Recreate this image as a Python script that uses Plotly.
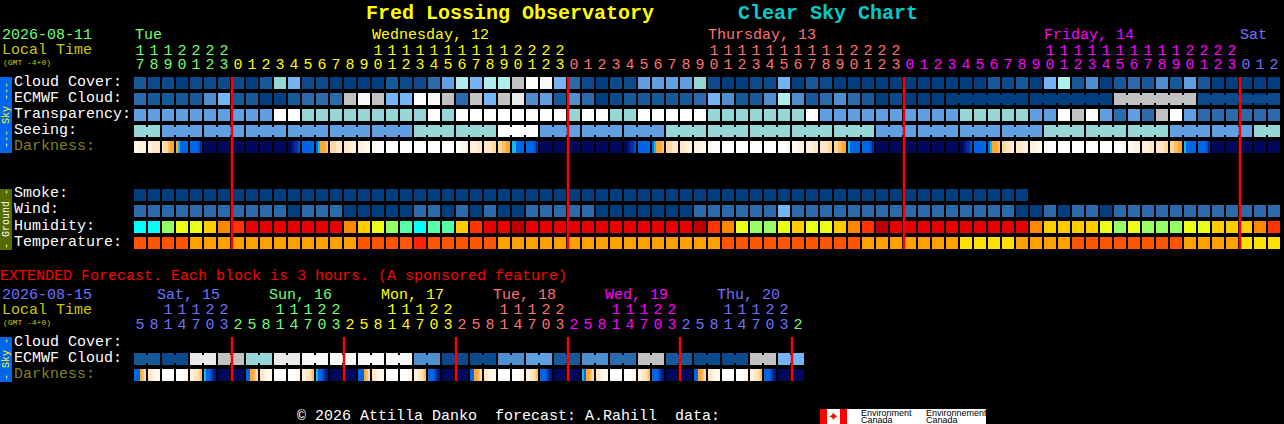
import plotly.graph_objects as go

W = 1284
H = 424
FONT = "Liberation Mono"

# colours per level
cloud_colors = ["#003E7E", "#0D4A8C", "#175A9A", "#2B6BAB", "#4F8FD0", "#5F9FE2", "#75B5F5",
                "#96D6D6", "#AEEEEE", "#C2C2C2", "#EAEAEA", "#F8F8F8", "#FFFFFF"]
humidity_colors = ["#00FFFF", "#55FFAA", "#99FF66", "#EAFF15", "#FFCC00", "#FF8800", "#FF3300", "#E60000", "#BB0000"]
temp_colors = ["#FFE000", "#FFA000", "#FF5500", "#FF2200"]
dark_levels = "abcdefghijklm"
dark_colors = ["#FFFFFF", "#FFF8EE", "#FFF0DC", "#FFE6C4", "#FFD8A0", "#FFC060", "#FFA830", "#10B8F0",
               "#0066E6", "#0050CC", "#0030A0", "#001880", "#00085C"]

# hourly rows, level per hour
cloud_cover = [2, 1, 1, 0, 1, 1, 1, 1, 0, 2, 7, 6, 1, 1, 0, 0, 0, 0, 2, 1, 1,
               3, 5, 8, 6, 8, 8, 9, 12, 11, 6, 3, 1, 0, 1, 1, 5, 5, 5, 5, 7,
               1, 0, 0, 1, 1, 6, 0, 2, 1, 0, 0, 0, 0, 0, 0, 0, 0, 0, 0, 0,
               2, 1, 2, 0, 6, 8, 2, 4, 0, 2, 3, 2, 4, 2, 5, 2, 0, 0, 0, 0, 0]
ecmwf_cloud = [3, 2, 2, 2, 2, 4, 6, 2, 2, 0, 0, 2, 3, 3, 3, 9, 11, 9, 6, 6, 12,
               11, 9, 3, 9, 6, 9, 10, 4, 5, 2, 4, 3, 0, 1, 2, 2, 2, 2, 2, 3,
               6, 4, 2, 2, 4, 8, 4, 2, 3, 4, 3, 2, 0, 1, 0, 0, 0, 0, 0, 0,
               0, 0, 0, 0, 0, 0, 0, 0, 0, 9, 9, 9, 9, 9, 9, 1, 1, 1, 0, 0, 1]
ecmwf_joined = [(58, 63), (64, 69), (70, 75), (76, 81)]
transparency = [5, 5, 5, 5, 5, 5, 5, 5, 5, 5, 12, 12, 7, 7, 7, 7, 7, 7, 7, 7, 7,
                12, 7, 12, 12, 12, 12, 12, 12, 12, 12, 7, 12, 12, 7, 7, 12, 12, 12, 12, 12,
                7, 7, 7, 7, 7, 7, 7, 12, 5, 5, 5, 5, 5, 5, 5, 5, 5, 5, 7, 7, 7, 7,
                7, 5, 5, 12, 9, 12, 5, 3, 5, 3, 9, 12, 5, 3, 3, 3, 3, 3, 3]
seeing_levels = [7, 5, 5, 5, 5, 5, 5, 7, 7, 12, 5, 5, 5, 7, 7, 7, 7, 7, 5, 5, 5, 5, 7, 7, 7, 5, 5, 7]
seeing_hours = [2, 3, 3, 3, 3, 3, 3, 3, 3, 3, 3, 3, 3, 3, 3, 3, 3, 3, 3, 3, 3, 3, 3, 3, 3, 3, 3, 2]
darkness = ["bbcccc", "ccdddd", "deefgg", "ghiiii", "iiiijk", "mmmmmm", "mmmmmm", "mmmmmm", "mmmmmm", "mmmmmm",
            "mmmmmm", "mmlkkj", "iiiiii", "ihgggf", "eeeddd", "dddccc", "cccbbb", "bbaaaa", "aaaaaa", "aaaaaa",
            "aaaaaa", "aaaaaa", "aaaaaa", "aabbbc", "ccccdd", "ddddee", "eeffgg", "hhiiii", "iiiijk", "mmmmmm",
            "mmmmmm", "mmmmmm", "mmmmmm", "mmmmmm", "mmmmmm", "mmlkkj", "iiiiii", "ihgggf", "eeeddd", "dddccc",
            "cccbbb", "bbaaaa", "aaaaaa", "aaaaaa", "aaaaaa", "aaaaaa", "aaaabb", "bbbccc", "ccccdd", "ddddee",
            "eeffgg", "hiiiii", "iiiijk", "mmmmmm", "mmmmmm", "mmmmmm", "mmmmmm", "mmmmmm", "mmmmmm", "mmlkkj",
            "iiiiii", "ihgggf", "eedddc", "dddccc", "cccbbb", "bbaaaa", "aaaaaa", "aaaaaa", "aaaaaa", "aaaaaa",
            "aaaabb", "bbbccc", "ccccdd", "ddddee", "eeffgg", "hiiiii", "iiiijk", "mmmmmm", "mmmmmm", "mmmmmm",
            "mmmmmm", "mmmmmm"]
smoke = [0] * 64
wind = [3, 3, 3, 3, 3, 3, 3, 3, 3, 3, 3, 0, 3, 3, 3, 0, 0, 0, 0, 0, 3,
        3, 0, 3, 0, 3, 0, 0, 3, 3, 3, 3, 3, 0, 0, 0, 0, 0, 0, 0, 3,
        3, 3, 3, 3, 3, 6, 3, 3, 3, 3, 3, 3, 3, 3, 3, 3, 3, 3, 3, 3,
        3, 3, 0, 0, 3, 0, 3, 3, 0, 3, 3, 3, 3, 3, 3, 3, 3, 3, 3, 3, 3]
humidity = [0, 0, 2, 3, 3, 4, 5, 6, 7, 7, 7, 7, 7, 7, 7, 5, 4, 3, 2, 1, 0,
            1, 1, 4, 6, 7, 7, 8, 7, 7, 7, 7, 7, 7, 7, 7, 7, 7, 7, 7, 8,
            6, 5, 3, 2, 2, 3, 4, 3, 3, 4, 5, 6, 8, 7, 7, 7, 7, 7, 7, 7,
            7, 7, 7, 5, 4, 4, 4, 4, 3, 2, 3, 2, 2, 2, 3, 3, 4, 4, 4, 5, 6]
temperature = [2, 2, 2, 2, 1, 1, 1, 1, 1, 1, 1, 1, 1, 1, 1, 1, 2, 2, 2, 2, 3,
               2, 2, 2, 2, 2, 1, 1, 1, 1, 1, 1, 1, 1, 1, 1, 1, 1, 1, 1, 1,
               1, 2, 2, 2, 2, 2, 2, 2, 2, 2, 2, 1, 1, 1, 1, 1, 1, 1, 0, 0,
               0, 0, 1, 1, 1, 1, 2, 2, 2, 2, 2, 2, 2, 2, 1, 1, 1, 1, 0, 0, 0]

# extended rows, one value per 3 hour block (two cells each)
ext_ecmwf = [2, 1, 10, 9, 7, 10, 11, 11, 11, 11, 4, 1, 1, 4, 5, 2, 4, 3, 9, 2, 1, 1, 9, 6]
ext_darkness = ["iiigfe", "ddcbbb", "aaaaaa", "aaaabb", "ccddef", "hiijkl", "mmmmmm", "mmmmmm",
                "iiggfe", "ddcbbb", "aaaaaa", "aaaabb", "ccddef", "hiijkl", "mmmmmm", "mmmmmm",
                "iiigfe", "ddcbbb", "aaaaaa", "aaaabb", "ccddef", "iiijkl", "mmmmmm", "mmmmmm",
                "iiggfe", "ddcbbb", "aaaaaa", "aaaabb", "ccddef", "iiijkl", "mmmmmm", "mmmmmm",
                "higgfe", "ddcbbb", "aaaaaa", "aaaabb", "ccddef", "iiijkl", "mmmmmm", "mmmmmm",
                "iiggfe", "ddcbbb", "aaaaaa", "aaaabb", "ccddef", "iiijkl", "mmmmmm", "mmmmmm"]

# header labels
tens = ["1", "1", "1", "2", "2", "2", "2", "", "", "", "", "", "", "", "", "", "",
        "1", "1", "1", "1", "1", "1", "1", "1", "1", "1", "2", "2", "2", "2", "", "", "", "", "", "", "", "", "", "",
        "1", "1", "1", "1", "1", "1", "1", "1", "1", "1", "2", "2", "2", "2", "", "", "", "", "", "", "", "", "", "",
        "1", "1", "1", "1", "1", "1", "1", "1", "1", "1", "2", "2", "2", "2", "", "", ""]
units = [7, 8, 9, 0, 1, 2, 3, 0, 1, 2, 3, 4, 5, 6, 7, 8, 9,
         0, 1, 2, 3, 4, 5, 6, 7, 8, 9, 0, 1, 2, 3, 0, 1, 2, 3, 4, 5, 6, 7, 8, 9,
         0, 1, 2, 3, 4, 5, 6, 7, 8, 9, 0, 1, 2, 3, 0, 1, 2, 3, 4, 5, 6, 7, 8, 9,
         0, 1, 2, 3, 4, 5, 6, 7, 8, 9, 0, 1, 2, 3, 0, 1, 2]
hour_days = [0] * 7 + [1] * 24 + [2] * 24 + [3] * 24 + [4] * 3
ext_tens = ["", "", "1", "1", "1", "2", "2", "", "", "", "1", "1", "1", "2", "2", "",
            "", "", "1", "1", "1", "2", "2", "", "", "", "1", "1", "1", "2", "2", "",
            "", "", "1", "1", "1", "2", "2", "", "", "", "1", "1", "1", "2", "2", ""]
ext_units = [5, 8, 1, 4, 7, 0, 3, 2, 5, 8, 1, 4, 7, 0, 3, 2, 5, 8, 1, 4, 7, 0, 3, 2,
             5, 8, 1, 4, 7, 0, 3, 2, 5, 8, 1, 4, 7, 0, 3, 2, 5, 8, 1, 4, 7, 0, 3, 2]
ext_days = [0] * 7 + [1] * 8 + [2] * 8 + [3] * 8 + [4] * 8 + [0] * 8 + [1]
day_colors = ["#70FF70", "#FFFF00", "#FF7070", "#FF00FF", "#7070FF"]
ext_day_colors = ["#7070FF", "#70FF70", "#FFFF00", "#FF7070", "#FF00FF"]

hour_midnights = [7, 31, 55, 79]
ext_midnights = [7, 15, 23, 31, 39, 47]


def stepped(colors):
    n = len(colors)
    scale = []
    for k, c in enumerate(colors):
        scale += [[k / n, c], [(k + 1) / n, c]]
    return scale


def add_row(fig, values, colors, row):
    fig.add_trace(go.Heatmap(z=[values], x0=0, dx=1, y0=row, dy=1, xgap=2, ygap=4,
                             zmin=-0.5, zmax=len(colors) - 0.5, colorscale=stepped(colors),
                             showscale=False, hoverinfo="skip"))


def add_dark_row(fig, cells, row):
    # six 2px steps per block and an empty step for the gap
    z = []
    for cell in cells:
        z += [dark_levels.index(c) for c in cell] + [None]
    fig.add_trace(go.Heatmap(z=[z], x0=-5 / 14, dx=1 / 7, y0=row, dy=1, ygap=4,
                             zmin=-0.5, zmax=len(dark_colors) - 0.5, colorscale=stepped(dark_colors),
                             showscale=False, hoverinfo="skip"))


def add_joint(fig, start, end, row, color):
    fig.add_trace(go.Scatter(x=[start, end], y=[row, row], mode="lines",
                             line=dict(color=color, width=8), hoverinfo="skip"))


def add_midnights(fig, cells, top, bottom):
    for m in cells:
        fig.add_trace(go.Scatter(x=[m - 6 / 14, m - 6 / 14], y=[top, bottom], mode="lines",
                                 line=dict(color="#FF0000", width=2.5), hoverinfo="skip"))


def add_digits(fig, labels, days, colors, row):
    fig.add_trace(go.Scatter(x=list(range(len(labels))), y=[row] * len(labels), mode="text",
                             text=[str(v) for v in labels],
                             textfont=dict(family=FONT, size=15, color=[colors[d] for d in days]),
                             textposition="middle center", hoverinfo="skip"))


fig = go.Figure()

# sky block
add_row(fig, cloud_cover, cloud_colors, 0)
add_row(fig, ecmwf_cloud, cloud_colors, 1)
add_row(fig, transparency, cloud_colors, 2)
seeing = []
pos = 0
for level, n in zip(seeing_levels, seeing_hours):
    seeing += [level] * n
    add_joint(fig, pos, pos + n - 1, 3, cloud_colors[level])
    pos += n
add_row(fig, seeing, cloud_colors, 3)
add_dark_row(fig, darkness, 4)
for a, b in ecmwf_joined:
    add_joint(fig, a, b, 1, cloud_colors[ecmwf_cloud[a]])

# ground block
add_row(fig, smoke, cloud_colors, 7)
add_row(fig, wind, cloud_colors, 8)
add_row(fig, humidity, humidity_colors, 9)
add_row(fig, temperature, temp_colors, 10)
add_midnights(fig, hour_midnights, -0.375, 10.375)

# extended block, rows sit 16.25 rows below the top of the chart
ext_cells = []
for k, level in enumerate(ext_ecmwf):
    ext_cells += [level, level]
    add_joint(fig, 2 * k, 2 * k + 1, 17.25, cloud_colors[level])
add_row(fig, ext_cells, cloud_colors, 17.25)
add_dark_row(fig, ext_darkness, 18.25)
add_midnights(fig, ext_midnights, 15.875, 18.625)

# hour digits
add_digits(fig, tens, hour_days, day_colors, -2)
add_digits(fig, units, hour_days, day_colors, -1.125)
add_digits(fig, ext_tens, ext_days, ext_day_colors, 14.1875)
add_digits(fig, ext_units, ext_days, ext_day_colors, 15.125)

fig.update_layout(
    width=W, height=H, margin=dict(l=0, r=0, t=0, b=0),
    paper_bgcolor="#000000", plot_bgcolor="#000000", showlegend=False,
    xaxis=dict(range=[-10, (W - 140) / 14], visible=False, fixedrange=True),
    yaxis=dict(range=[(H - 83) / 16, -83 / 16], visible=False, fixedrange=True),
)
fig.update_traces(selector=dict(type="scatter"), cliponaxis=False)


def put(px, py, text, color, size=15, anchor="left", angle=0, family=FONT):
    fig.add_annotation(xref="paper", yref="paper", x=px / W, y=1 - py / H, text=text, showarrow=False,
                       xanchor=anchor, yanchor="middle", textangle=angle, borderpad=0, borderwidth=0,
                       font=dict(family=family, size=size, color=color))


def box(x0, y0, x1, y1, color):
    fig.add_shape(type="rect", xref="paper", yref="paper", x0=x0 / W, x1=x1 / W,
                  y0=1 - y0 / H, y1=1 - y1 / H, fillcolor=color, line_width=0, layer="below")


put(366, 13, "<b>Fred Lossing Observatory</b>", "#FFFF00", 20)
put(738, 13, "<b>Clear Sky Chart</b>", "#00CCCC", 20)

put(2, 36, "2026-08-11", "#70FF70")
put(2, 51, "Local Time", "#C8C800")
put(3, 62, "(GMT -4+0)", "#C8C800", 8)
put(135, 36, "Tue", "#70FF70")
put(372, 36, "Wednesday, 12", "#FFFF00")
put(708, 36, "Thursday, 13", "#FF7070")
put(1044, 36, "Friday, 14", "#FF00FF")
put(1240, 36, "Sat", "#7070FF")

for py, label, color in [(82, "Cloud Cover:", "#FFFFFF"), (98, "ECMWF Cloud:", "#FFFFFF"),
                         (114, "Transparency:", "#FFFFFF"), (130, "Seeing:", "#FFFFFF"),
                         (146, "Darkness:", "#808020"), (194, "Smoke:", "#FFFFFF"),
                         (210, "Wind:", "#FFFFFF"), (226, "Humidity:", "#FFFFFF"),
                         (242, "Temperature:", "#FFFFFF"), (342, "Cloud Cover:", "#FFFFFF"),
                         (358, "ECMWF Cloud:", "#FFFFFF"), (374, "Darkness:", "#808020")]:
    put(14, py, label, color)

put(0, 276, "EXTENDED Forecast. Each block is 3 hours. (A sponsored feature)", "#FF0000")
put(2, 295, "2026-08-15", "#7070FF")
put(2, 310, "Local Time", "#C8C800")
put(3, 322, "(GMT -4+0)", "#C8C800", 8)
for px, label, color in [(157, "Sat, 15", "#7070FF"), (269, "Sun, 16", "#70FF70"), (381, "Mon, 17", "#FFFF00"),
                         (493, "Tue, 18", "#FF7070"), (605, "Wed, 19", "#FF00FF"), (717, "Thu, 20", "#7070FF")]:
    put(px, 295, label, color)

# side bars
box(0, 77, 12, 153, "#0066EE")
box(0, 189, 12, 250, "#556B00")
box(0, 337, 12, 382, "#0066EE")
put(6, 115, "--- Sky ---", "#FFFF00", 10, "center", -90)
put(6, 219, "- Ground -", "#FFFFFF", 10, "center", -90)
put(6, 359, "- Sky -", "#FFFF00", 10, "center", -90)

# footer and logo
put(297, 416, "\u00a9 2026 Attilla Danko\u00a0\u00a0forecast: A.Rahill\u00a0\u00a0data:", "#FFFFFF")
box(820, 409, 986, 424, "#FFFFFF")
box(820, 409, 827, 424, "#FF0000")
box(840, 409, 847, 424, "#FF0000")
put(833.5, 416.5, "\u2726", "#FF0000", 13, "center", family="DejaVu Sans")
put(861, 413, "Environment", "#000000", 9, family="Liberation Sans")
put(861, 420, "Canada", "#000000", 9, family="Liberation Sans")
put(926, 413, "Environnement", "#000000", 9, family="Liberation Sans")
put(926, 420, "Canada", "#000000", 9, family="Liberation Sans")

fig.write_html("out.html", config=dict(displayModeBar=False),
               post_script="document.body.style.margin='0';document.body.style.background='#000';")
